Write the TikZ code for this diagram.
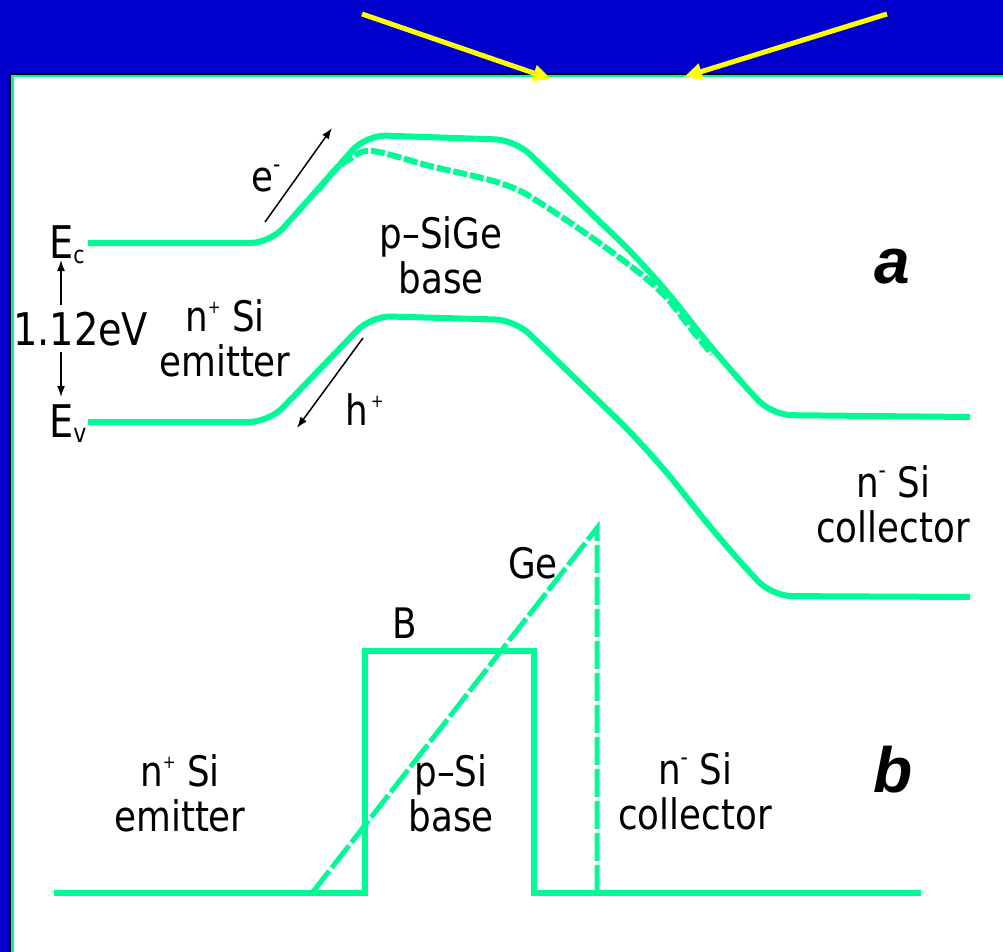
\documentclass[tikz,border=0pt]{standalone}
\usepackage{fontspec}
\setmainfont{DejaVu Sans}[FakeStretch=0.85]
\newfontfamily\tagfont{Liberation Sans}
\usetikzlibrary{arrows.meta}

\definecolor{slideblue}{RGB}{0,0,204}
\definecolor{bandgreen}{RGB}{0,250,150}
\definecolor{pointer}{RGB}{255,255,0}

\newcommand{\supplus}{\raisebox{18pt}{\fontsize{18}{18}\selectfont +}}
\newcommand{\supminus}{\raisebox{19pt}{\fontsize{24}{24}\selectfont -}}

\begin{document}
\begin{tikzpicture}[x=1pt, y=-1pt,
    band/.style={bandgreen, line width=6pt},
    profile/.style={bandgreen, line width=5pt, dash pattern=on 28pt off 4pt},
    carrier/.style={black, line width=1.5pt, -{Latex[length=11pt,width=8pt]}},
    txt/.style={inner sep=0pt, align=center, font=\fontsize{42}{45}\selectfont},
    bigtxt/.style={inner sep=0pt, font=\fontsize{45}{45}\selectfont},
    letter/.style={inner sep=0pt, font=\tagfont\bfseries\itshape\fontsize{64}{64}\selectfont}]
  \useasboundingbox (0,0) rectangle (1003,952);

  % background and panel
  \fill[slideblue] (0,0) rectangle (1003,952);
  \fill[white] (11,75) rectangle (1003,952);
  \draw[black, line width=2pt] (10,952) -- (10,73.7) -- (1003,73.7);
  \draw[bandgreen, line width=2.6pt] (12.5,952) -- (12.5,76) -- (1003,76);

  % yellow pointers
  \coordinate (Y1) at (362,14);
  \coordinate (Y1t) at (551,79);
  \coordinate (Y2) at (887,14);
  \coordinate (Y2t) at (684,77);
  \draw[pointer, line width=5pt, -{Triangle[length=18pt,width=16pt]}] (Y1) -- (Y1t);
  \draw[pointer, line width=5pt, -{Triangle[length=18pt,width=16pt]}] (Y2) -- (Y2t);

  % a: band edges
  \draw[band, rounded corners=20pt] (88,243) -- (270,243) -- (366,135) -- (515,140)
    [rounded corners=45pt] -- (650,270) -- (725,365) [rounded corners=20pt] -- (772,415) -- (970,417);
  \draw[band, rounded corners=20pt] (88,422) -- (269,422) -- (371,316) -- (515,320)
    [rounded corners=45pt] -- (650,451) -- (725,546) [rounded corners=20pt] -- (772,596) -- (970,597);
  \draw[bandgreen, line width=6pt, dash pattern=on 14pt off 3pt]
    plot[smooth, tension=0.6] coordinates {(318,190) (335,170) (350,159) (372,151)
    (430,166) (503,184) (545,206) (620,258) (663,294) (692,330) (712,354)};

  % b: doping profiles
  \draw[band] (54,893) -- (365,893) -- (365,651) -- (534,651) -- (534,893) -- (921,893);
  \draw[profile] (312,893) -- (597,528) -- (597,893);

  % labels a
  \node[bigtxt, anchor=base west] (Ec) at (49,258) {E\raisebox{-5pt}{\fontsize{24}{24}\selectfont c}};
  \node[bigtxt, anchor=base west] (Ev) at (49,437) {E\raisebox{-5pt}{\fontsize{26}{26}\selectfont v}};
  \node[bigtxt, anchor=base west] (gap) at (13,345) {1.12eV};
  \node[txt, anchor=south] (emitA) at (225,377) {n\supplus{} Si\\emitter};
  \node[txt, anchor=south] (baseA) at (441,294) {p–SiGe\\base};
  \node[txt, anchor=south] (collA) at (893,543) {n\supminus{} Si\\collector};
  \node[txt, anchor=base west] (elec) at (251,192) {e\supminus};
  \node[txt, anchor=base west] (hole) at (345,425) {h\hspace{3pt}\supplus};
  \node[letter, anchor=base] (tagA) at (892,283) {a};

  % carrier and gap arrows
  \coordinate (gapT) at (61,305);
  \coordinate (gapB) at (61,352);
  \coordinate (EcTip) at (61,260);
  \coordinate (EvTip) at (61,397);
  \draw[carrier] (gapT) -- (EcTip);
  \draw[carrier] (gapB) -- (EvTip);
  \coordinate (e1) at (265,222);
  \coordinate (e2) at (332,128);
  \coordinate (h1) at (363,338);
  \coordinate (h2) at (297,428);
  \draw[carrier] (e1) -- (e2);
  \draw[carrier] (h1) -- (h2);

  % labels b
  \node[txt, anchor=base] (boron) at (405,638) {B};
  \node[txt, anchor=base] (germ) at (533,578) {Ge};
  \node[txt, anchor=south] (baseB) at (451,832) {p–Si\\base};
  \node[txt, anchor=south] (emitB) at (180,832) {n\supplus{} Si\\emitter};
  \node[txt, anchor=south] (collB) at (695,830) {n\supminus{} Si\\collector};
  \node[letter, anchor=base] (tagB) at (893,792) {b};
\end{tikzpicture}
\end{document}
